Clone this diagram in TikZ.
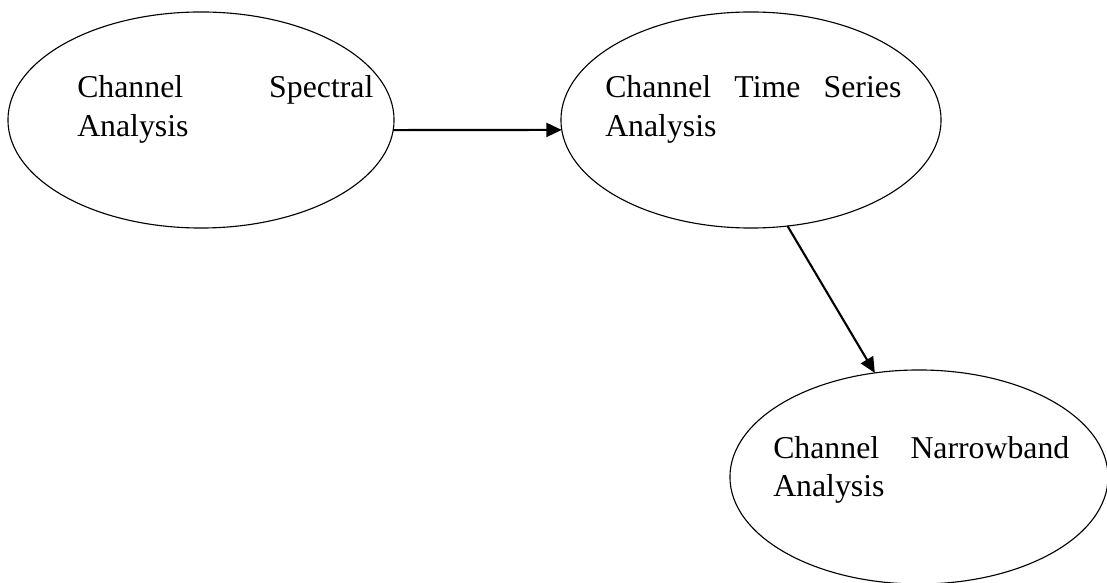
\documentclass[tikz,border=0pt]{standalone}
\usepackage{fontspec}
\setmainfont{Liberation Serif}
\usetikzlibrary{arrows.meta, shapes.geometric}

\begin{document}
\begin{tikzpicture}[x=0.025cm,y=-0.025cm,>={Triangle[length=11pt,width=10pt]},
  block/.style={ellipse, draw, line width=0.8pt, inner sep=0pt, outer sep=0pt},
  txt/.style={anchor=base west, inner sep=0pt, text width=7.4cm, align=left,
    font=\fontsize{22.6}{27.7}\selectfont},
  link/.style={line width=1.5pt}]
  \useasboundingbox (0,0) rectangle (1107,583);

% define the states
  \node[block, minimum width=9.65cm, minimum height=5.4cm]  (spec) at (201,120) {};
  \node[block, minimum width=9.5cm, minimum height=5.4cm]   (ts)   at (751,120) {};
  \node[block, minimum width=9.45cm, minimum height=5.35cm] (nb)   at (919,477) {};

% the texts inside them
  \node[txt] (spectext) at (77,98)  {Channel\hfill Spectral\\Analysis};
  \node[txt] (tstext)   at (605,98) {Channel\hfill Time\hfill Series\\Analysis};
  \node[txt] (nbtext)   at (773,458) {Channel\hfill Narrowband\\Analysis};

% define the links
  \path[->, link] (spec.-3) edge (ts.183)
                  (ts.-71)  edge (nb.113);

\end{tikzpicture}
\end{document}
